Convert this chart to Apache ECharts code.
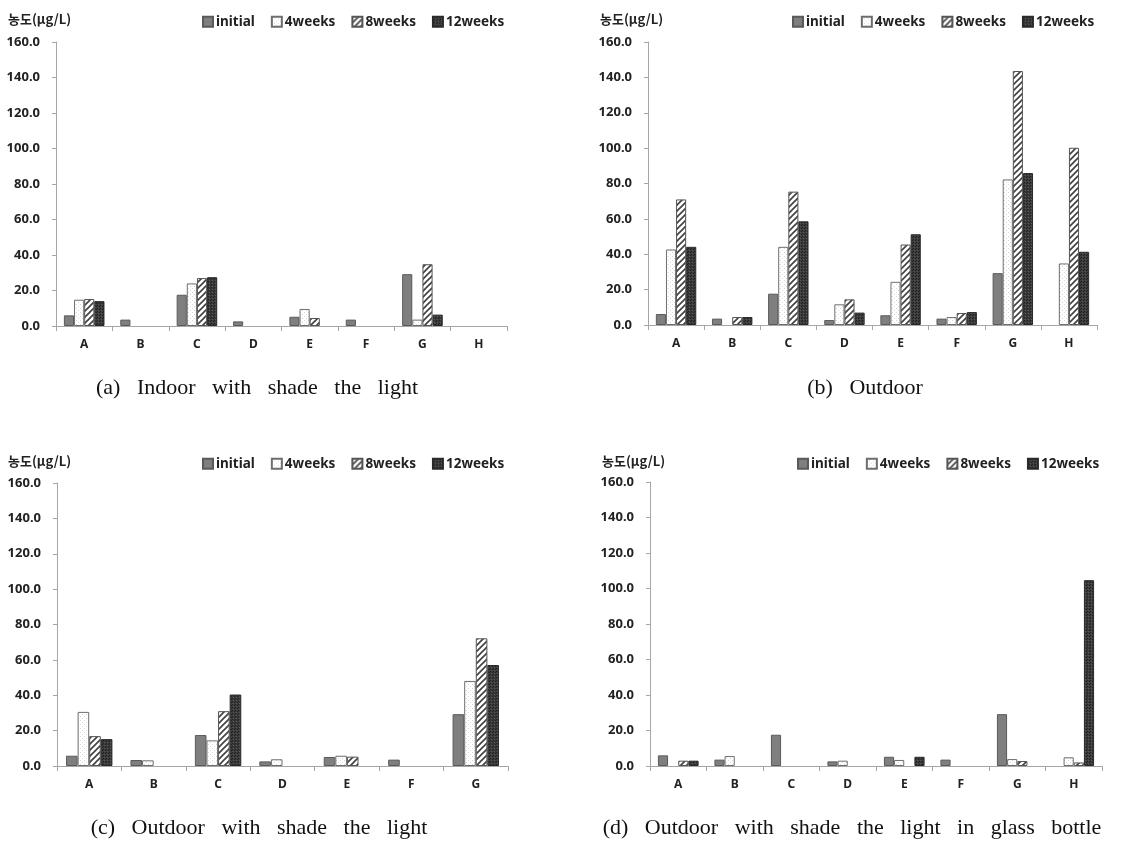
<!DOCTYPE html>
<html>
<head>
<meta charset="utf-8">
<script src="https://cdn.jsdelivr.net/npm/echarts@6/dist/echarts.min.js"></script>
<style>html,body{margin:0;padding:0;background:#fff}#c{width:1142px;height:841px}</style>
</head>
<body>
<div id="c"></div>
<script>
// ---- data ----
const seriesNames = ['initial', '4weeks', '8weeks', '12weeks'];
const cats8 = ['A', 'B', 'C', 'D', 'E', 'F', 'G', 'H'];
const cats7 = ['A', 'B', 'C', 'D', 'E', 'F', 'G'];
const yTicks = [0, 20, 40, 60, 80, 100, 120, 140, 160];

// (a) Indoor with shade the light
const aInitial = [6.0, 3.6, 17.6, 2.6, 5.2, 3.6, 29.2, 0];
const a4w      = [14.8, 0, 24.0, 0, 9.6, 0, 3.6, 0];
const a8w      = [15.2, 0, 27.0, 0, 4.5, 0, 34.8, 0];
const a12w     = [14.0, 0, 27.5, 0, 0, 0, 6.4, 0];
// (b) Outdoor
const bInitial = [6.2, 3.6, 17.7, 2.8, 5.5, 3.6, 29.3, 0];
const b4w      = [42.7, 0, 44.2, 11.7, 24.4, 4.5, 82.3, 34.8];
const b8w      = [71.0, 4.5, 75.4, 14.5, 45.5, 6.8, 143.6, 100.2];
const b12w     = [44.2, 4.5, 58.6, 7.0, 51.3, 7.3, 85.9, 41.4];
// (c) Outdoor with shade the light
const cInitial = [5.8, 3.4, 17.5, 2.6, 5.1, 3.6, 29.3];
const c4w      = [30.6, 3.2, 14.5, 3.8, 5.8, 0, 48.1];
const c8w      = [16.9, -0.4, 31.0, 0, 5.3, 0, 72.2];
const c12w     = [15.2, 0, 40.4, 0, 0, 0, 57.1];
// (d) Outdoor with shade the light in glass bottle
const dInitial = [6.0, 3.6, 17.6, 2.6, 5.2, 3.6, 29.2, 0];
const d4w      = [0, 5.6, 0, 3.0, 3.4, 0, 3.9, 4.9];
const d8w      = [3.0, 0, 0, 0, 0, 0, 2.8, 2.0];
const d12w     = [3.0, 0, 0, 0, 5.2, 0, 0, 104.7];

const captions = [
  '(a)   Indoor   with   shade   the   light',
  '(b)   Outdoor',
  '(c)   Outdoor   with   shade   the   light',
  '(d)   Outdoor   with   shade   the   light   in   glass   bottle'
];
const unitLabel = '농도(μg/L)';

// ---- patterns ----
function pat(w, h, draw) {
  const c = document.createElement('canvas');
  c.width = w; c.height = h;
  const g = c.getContext('2d');
  draw(g, w, h);
  return { image: c, repeat: 'repeat' };
}
const dots4 = pat(4, 4, (g) => {
  g.fillStyle = '#ffffff'; g.fillRect(0, 0, 4, 4);
  g.fillStyle = '#d8d8d8'; g.fillRect(0, 0, 1, 1); g.fillRect(2, 2, 1, 1);
});
const hatch8 = pat(6, 6, (g) => {
  g.fillStyle = '#ffffff'; g.fillRect(0, 0, 6, 6);
  g.strokeStyle = '#404040'; g.lineWidth = 1.6;
  g.beginPath();
  g.moveTo(-1, 7); g.lineTo(7, -1);
  g.moveTo(-4, 4); g.lineTo(4, -4);
  g.moveTo(2, 10); g.lineTo(10, 2);
  g.stroke();
});
const dark12 = pat(3, 3, (g) => {
  g.fillStyle = '#3d3d3d'; g.fillRect(0, 0, 3, 3);
  g.fillStyle = '#1e1e1e'; g.fillRect(0, 0, 1, 1); g.fillRect(1, 2, 1, 1);
  g.fillStyle = '#555555'; g.fillRect(2, 1, 1, 1);
});
const styles = [
  { color: '#7f7f7f', borderColor: '#5a5a5a', borderWidth: 1 },
  { color: dots4, borderColor: '#6e6e6e', borderWidth: 1 },
  { color: hatch8, borderColor: '#555555', borderWidth: 1 },
  { color: dark12, borderColor: '#2a2a2a', borderWidth: 1 }
];

const panels = [
  { cats: cats8, data: [aInitial, a4w, a8w, a12w], grid: { left: 56, top: 42, width: 451, height: 284 }, legendLeft: 197, legendTop: 10, unit: [8, 19], cap: [257, 388] },
  { cats: cats8, data: [bInitial, b4w, b8w, b12w], grid: { left: 648, top: 42, width: 449, height: 283 }, legendLeft: 787, legendTop: 10, unit: [600, 19], cap: [865, 388] },
  { cats: cats7, data: [cInitial, c4w, c8w, c12w], grid: { left: 57, top: 483, width: 451, height: 283 }, legendLeft: 197, legendTop: 452, unit: [8, 461], cap: [259, 828] },
  { cats: cats8, data: [dInitial, d4w, d8w, d12w], grid: { left: 650, top: 482, width: 452, height: 284 }, legendLeft: 792, legendTop: 452, unit: [602, 461], cap: [852, 828] }
];

const FONT = "'Noto Sans', 'Noto Sans CJK KR', sans-serif";
const axisColor = '#a6a6a6';

const option = {
  animation: false,
  backgroundColor: '#ffffff',
  grid: panels.map(p => Object.assign({}, p.grid)),
  xAxis: panels.map((p, i) => ({
    type: 'category', gridIndex: i, data: p.cats,
    axisLine: { lineStyle: { color: axisColor, width: 1 } },
    axisTick: { show: true, length: 5, alignWithLabel: false, lineStyle: { color: axisColor } },
    axisLabel: { fontFamily: FONT, fontWeight: 'bold', fontSize: 12, color: '#222', margin: 13 },
    splitLine: { show: false }
  })),
  yAxis: panels.map((p, i) => ({
    type: 'value', gridIndex: i, min: yTicks[0], max: yTicks[yTicks.length - 1], interval: yTicks[1] - yTicks[0],
    axisLine: { show: true, lineStyle: { color: axisColor, width: 1 } },
    axisTick: { show: true, length: 4, lineStyle: { color: axisColor } },
    axisLabel: { fontFamily: FONT, fontWeight: 'bold', fontSize: 13, color: '#222', margin: 16, formatter: v => v.toFixed(1) },
    splitLine: { show: false }
  })),
  legend: panels.map(p => ({
    data: seriesNames, left: p.legendLeft, top: p.legendTop,
    itemWidth: 10, itemHeight: 10, itemGap: 16, icon: 'rect',
    textStyle: { fontFamily: FONT, fontWeight: 'bold', fontSize: 13.5, color: '#222', padding: [0, 0, 0, -2] },
    selectedMode: false
  })),
  graphic: panels.flatMap((p, i) => [
    { type: 'text', x: p.unit[0], y: p.unit[1], style: { text: unitLabel, font: "bold 13px 'Noto Sans CJK KR', sans-serif", fill: '#222', align: 'left', verticalAlign: 'middle', textAlign: 'left', textVerticalAlign: 'middle' } },
    { type: 'text', x: p.cap[0], y: p.cap[1], style: { text: captions[i], font: "22px 'Liberation Serif', serif", fill: '#111', align: 'center', verticalAlign: 'middle', textAlign: 'center', textVerticalAlign: 'middle' } }
  ]),
  series: panels.flatMap((p, i) => seriesNames.map((name, k) => ({
    name, type: 'bar', xAxisIndex: i, yAxisIndex: i,
    data: p.data[k].map(v => (v === 0 ? '-' : v)),
    barGap: '0%', barCategoryGap: '28%',
    itemStyle: styles[k],
    emphasis: { disabled: true }
  })))
};

const chart = echarts.init(document.getElementById('c'), null, { renderer: 'canvas' });
chart.setOption(option);
</script>
</body>
</html>
